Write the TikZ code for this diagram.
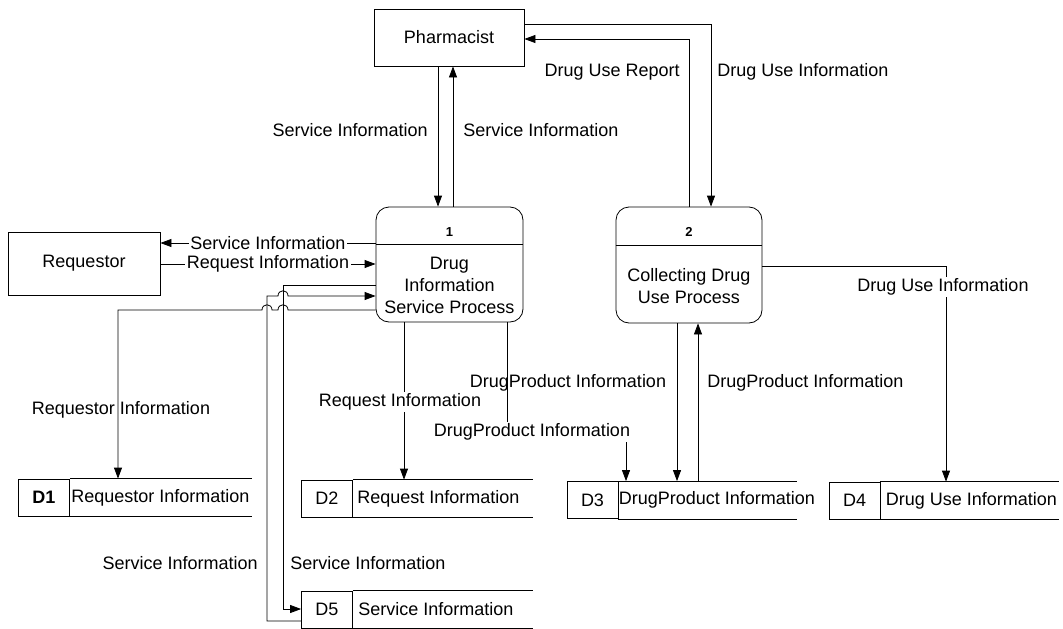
\documentclass[tikz,border=0pt]{standalone}
\usepackage{fontspec}
\setmainfont{Liberation Sans}
\usetikzlibrary{arrows.meta}
\begin{document}
\begin{tikzpicture}[x=1pt,y=-1pt,
  font=\fontsize{18}{22}\selectfont,
  line width=0.8pt,
  arr/.style={-{Triangle[length=11pt,width=8pt]}},
  ent/.style={draw,rectangle,inner sep=0pt},
  proc/.style={draw,rectangle,rounded corners=13pt,inner sep=0pt},
  sid/.style={draw,rectangle,inner sep=0pt,minimum width=51pt,minimum height=37pt},
  lbl/.style={inner sep=1pt},
  wlbl/.style={inner sep=1.5pt,fill=white},
  num/.style={font=\fontsize{13}{15}\selectfont\bfseries}]
\useasboundingbox[fill=white] (0,0) rectangle (1063,629);

% external entities
\node[ent,minimum width=150pt,minimum height=57pt] (ph) at (449,37.5) {Pharmacist};
\node[ent,minimum width=152pt,minimum height=63pt] (rq) at (84,263.5) {Requestor};

% processes
\node[proc,minimum width=147pt,minimum height=115pt] (p1) at (449.5,264.5) {};
\draw ([yshift=-38pt]p1.north west) -- ([yshift=-38pt]p1.north east);
\node[num] (p1n) at (449.5,232) {1};
\node[align=center] (p1t) at (449.5,285) {Drug\\Information\\Service Process};

\node[proc,minimum width=146pt,minimum height=116pt] (p2) at (689,265) {};
\draw ([yshift=-39pt]p2.north west) -- ([yshift=-39pt]p2.north east);
\node[num] (p2n) at (689,232) {2};
\node[align=center] (p2t) at (689,286) {Collecting Drug\\Use Process};

% data stores
\node[sid,font=\fontsize{18}{22}\selectfont\bfseries] (d1) at (44,497.5) {D1};
\draw (d1.north east) -- ++(182,0) (d1.south east) -- ++(182,0);
\node[anchor=west,inner sep=1pt] (d1l) at (d1.east) {Requestor Information};

\node[sid] (d2) at (327,498.5) {D2};
\draw (d2.north east) -- ++(180,0) (d2.south east) -- ++(180,0);
\node[anchor=west,inner sep=1pt] (d2l) at ([xshift=3pt]d2.east) {Request Information};

\node[sid] (d3) at (592.5,500) {D3};
\draw (d3.north east) -- ++(179,0) (d3.south east) -- ++(179,0);
\node[anchor=west,inner sep=0pt] (d3l) at (d3.east) {DrugProduct Information};

\node[sid] (d4) at (854.5,500.5) {D4};
\draw (d4.north east) -- ++(179,0) (d4.south east) -- ++(179,0);
\node[anchor=west,inner sep=1pt] (d4l) at ([xshift=4pt]d4.east) {Drug Use Information};

\node[sid] (d5) at (327,609.5) {D5};
\draw (d5.north east) -- ++(180,0) (d5.south east) -- ++(180,0);
\node[anchor=west,inner sep=1pt] (d5l) at ([xshift=4pt]d5.east) {Service Information};

% helper coordinates
\coordinate (a1) at (438,0);
\coordinate (a2) at (453,0);
\coordinate (a3) at (711,24);
\coordinate (a4) at (689,39);
\coordinate (b1) at (0,243);
\coordinate (b2) at (0,264);
\coordinate (c1) at (283,285);
\coordinate (c2) at (267,296);
\coordinate (c3) at (118,310);
\coordinate (e1) at (0,609);
\coordinate (e2) at (0,621);
\coordinate (f1) at (404,0);
\coordinate (f2) at (507,432);
\coordinate (f3) at (626,432);
\coordinate (g1) at (677,0);
\coordinate (g2) at (698,0);
\coordinate (h1) at (946,266);

% pharmacist <-> process 1
\draw[arr] (ph.south -| a1) -- (p1.north -| a1);
\draw[arr] (p1.north -| a2) -- (ph.south -| a2);
\node[lbl,anchor=east] (l1) at (429,130) {Service Information};
\node[lbl,anchor=west] (l2) at (462,130) {Service Information};

% pharmacist <-> process 2
\draw[arr] (ph.east |- a3) -- (a3) -- (p2.north -| a3);
\draw[arr] (p2.north -| a4) -- (a4) -- (ph.east |- a4);
\node[lbl,anchor=east] (l3) at (681,72) {Drug Use Report};
\node[lbl,anchor=west] (l4) at (716,72) {Drug Use Information};

% requestor <-> process 1
\draw[arr] (p1.west |- b1) -- node[wlbl] (l5) {Service Information} (rq.east |- b1);
\draw[arr] (rq.east |- b2) -- node[wlbl] (l6) {Request Information} (p1.west |- b2);

% process 1 <-> D5
\draw[arr] (p1.west |- c1) -- (c1) -- (c1 |- e1) -- (d5.west |- e1);
\draw[arr] (d5.west |- e2) -- (c2 |- e2) -- (c2) -- (278,296)
  .. controls (278,289) and (288,289) .. (288,296) -- (p1.west |- c2);
\node[lbl,anchor=east] (l7) at (259,563) {Service Information};
\node[lbl,anchor=west] (l8) at (289,563) {Service Information};

% process 1 -> D1
\draw[arr] (p1.west |- c3) -- (288,310)
  .. controls (288,303) and (278,303) .. (278,310) -- (272,310)
  .. controls (272,303) and (262,303) .. (262,310) -- (c3) -- (d1.north -| c3);
\node[lbl] (l9) at (121,410) {Requestor Information};

% process 1 -> D2
\draw[arr] (p1.south -| f1) -- (d2.north -| f1);
\node[wlbl] (l10) at (400,402) {Request Information};

% process 1 -> D3
\draw[arr] (p1.south -| f2) -- (f2) -- (f3) -- (d3.north -| f3);
\node[wlbl] (l11) at (532,432) {DrugProduct Information};

% process 2 <-> D3
\draw[arr] (p2.south -| g1) -- (d3.north -| g1);
\draw[arr] (d3.north -| g2) -- (p2.south -| g2);
\node[lbl] (l12) at (568,383) {DrugProduct Information};
\node[lbl,anchor=west] (l13) at (706,383) {DrugProduct Information};

% process 2 -> D4
\draw[arr] (p2.east |- h1) -- (h1) -- (d4.north -| h1);
\node[wlbl] (l14) at (943,287) {Drug Use Information};
\end{tikzpicture}
\end{document}
